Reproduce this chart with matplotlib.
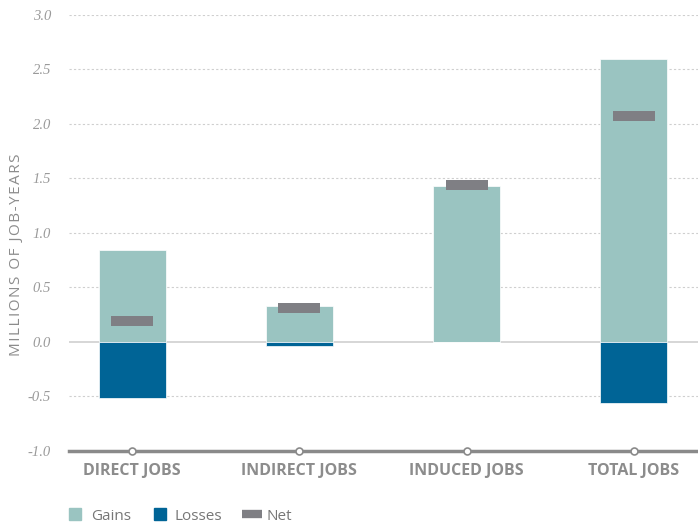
import matplotlib
matplotlib.use("Agg")
import matplotlib.pyplot as plt
from matplotlib.lines import Line2D
import numpy as np

categories = ["DIRECT JOBS", "INDIRECT JOBS", "INDUCED JOBS", "TOTAL JOBS"]
gains = [0.84, 0.33, 1.43, 2.60]
losses = [-0.52, -0.04, 0.0, -0.56]
net = [0.19, 0.31, 1.44, 2.07]

gain_color = "#9ac4c1"
loss_color = "#006496"
net_color = "#7f7f84"
text_gray = "#8c8c8c"

fig = plt.figure(figsize=(6.98, 5.27), dpi=100)
ax = fig.add_axes([69 / 698, 1 - 450.7 / 527, 629 / 698, 435.7 / 527])

x = np.arange(len(categories))
ax.bar(x, gains, width=0.4, color=gain_color, edgecolor="white", linewidth=0.5, zorder=3)
ax.bar(x, losses, width=0.4, color=loss_color, edgecolor="white", linewidth=0.5, zorder=3)

# net shown as a short thick dash centred on the value
mark_h = 0.09
ax.bar(x, [mark_h] * len(net), bottom=np.array(net) - mark_h / 2, width=0.25,
       color=net_color, zorder=4)

ax.set_xlim(-0.377, 3.383)
ax.set_ylim(-1.0, 3.0)

yt = np.arange(-1.0, 3.01, 0.5)
ax.set_yticks(yt)
ax.set_yticklabels([f"{v:.1f}" for v in yt], fontfamily="Liberation Serif",
                   fontstyle="italic", fontsize=10.5, color="#9a9a9a")
for v in yt:
    if v == 0:
        ax.axhline(v, color="#d0d0d0", lw=1.2, zorder=1)
    elif v > -1:
        ax.axhline(v, color="#cfcfcf", lw=0.8, ls=(0, (2, 2)), zorder=1)

# bottom axis with small open circles at each category
ax.axhline(-1.0, color="#8a8a8a", lw=2.5, zorder=5, clip_on=False)
ax.plot(x, [-1.0] * len(x), "o", ms=5, mfc="white", mec="#8a8a8a", mew=1.2,
        zorder=6, clip_on=False)

ax.set_xticks(x)
ax.set_xticklabels(categories, fontfamily="Open Sans", fontweight="bold",
                   fontsize=11.5, color=text_gray)
ax.tick_params(axis="both", length=0)
ax.tick_params(axis="y", pad=13)
ax.tick_params(axis="x", pad=9)
for s in ax.spines.values():
    s.set_visible(False)

# tracked-out axis title: hair spaces between the letters
ylab = "\u200a".join("MILLIONS OF JOB-YEARS")
ax.set_ylabel(ylab, fontfamily=["Open Sans", "DejaVu Sans"],
              fontsize=11, color=text_gray)
ax.yaxis.set_label_coords(-0.072, 0.449)

handles = [
    Line2D([], [], marker="s", ls="none", ms=9, color=gain_color),
    Line2D([], [], marker="s", ls="none", ms=9, color=loss_color),
    Line2D([], [], marker="_", ls="none", ms=15, mew=6, color=net_color),
]
fig.legend(handles, ["Gains", "Losses", "Net"], loc="center left",
           bbox_to_anchor=(54 / 698, 1 - 516 / 527), ncol=3, frameon=False,
           handletextpad=0.5, columnspacing=1.4, handlelength=1.0,
           prop={"family": "Open Sans", "size": 11}, labelcolor="#777777")

fig.savefig("out.png", dpi=100)
